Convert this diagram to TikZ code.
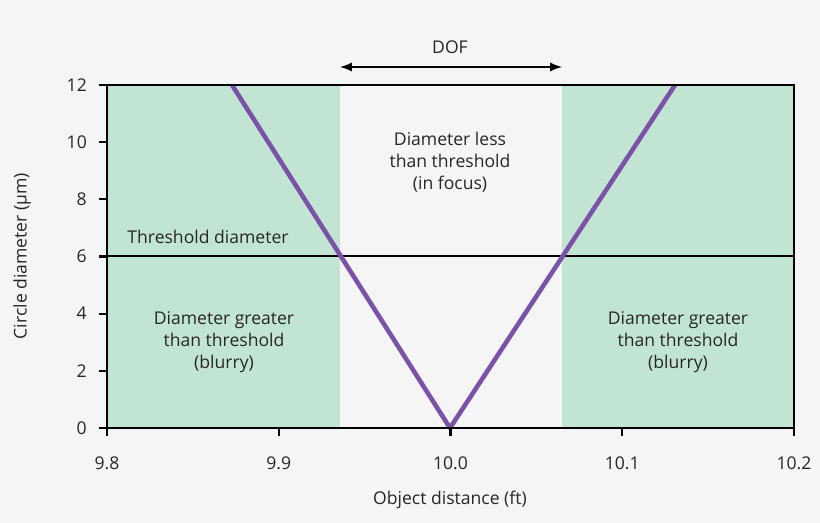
\documentclass[tikz,border=0pt]{standalone}
\usepackage{fontspec}
\setmainfont{Open Sans}
\definecolor{bg}{HTML}{F5F5F5}
\definecolor{grn}{HTML}{C2E5D3}
\definecolor{purp}{HTML}{7B52A8}
\begin{document}
\begin{tikzpicture}[x=0.02cm,y=-0.02cm,
  lab/.style={font=\fontsize{10}{12.5}\selectfont,align=center,text=black!85},
  tick/.style={font=\fontsize{10}{12}\selectfont,text=black!85}]
\fill[bg] (0,0) rectangle (820,523);
\useasboundingbox (0,0) rectangle (820,523);
\fill[grn] (107,85) rectangle (340,428);
\fill[grn] (562,85) rectangle (794,428);
\draw[line width=1.3pt] (107,256) -- (794,256);
\draw[purp,line width=2.6pt,line join=round] (232,85) -- (450,428) -- (675,85);
\draw[line width=1.3pt] (107,85) rectangle (794,428);
\foreach \i/\l in {0/0,1/2,2/4,3/6,4/8,5/10,6/12}{
  \pgfmathsetmacro\yy{428-\i*57.17}
  \draw[line width=1.3pt] (99,\yy) -- (107,\yy);
  \node[tick,anchor=east] (yt\i) at (93,\yy) {\l};}
\foreach \i/\l in {0/9.8,1/9.9,2/10.0,3/10.1,4/10.2}{
  \pgfmathsetmacro\xx{107+\i*171.75}
  \draw[line width=1.3pt] (\xx,428) -- (\xx,436);
  \node[tick] (xt\i) at (\xx,463) {\l};}
\node[lab] (xl) at (450,500) {Object distance (ft)};
\node[lab,rotate=90] (yl) at (22,256) {Circle diameter (µm)};
\node[lab] (thr) at (208,237) {Threshold diameter};
\node[lab] (in) at (450,162) {Diameter less\\than threshold\\(in focus)};
\node[lab] (bl) at (224,342) {Diameter greater\\than threshold\\(blurry)};
\node[lab] (br) at (678,342) {Diameter greater\\than threshold\\(blurry)};
\node[lab] (dof) at (450,47) {DOF};
\coordinate (dl) at (340,67);
\coordinate (dr) at (562,67);
\draw[line width=1.3pt,<->,>=latex] (dl) -- (dr);
\end{tikzpicture}
\end{document}
